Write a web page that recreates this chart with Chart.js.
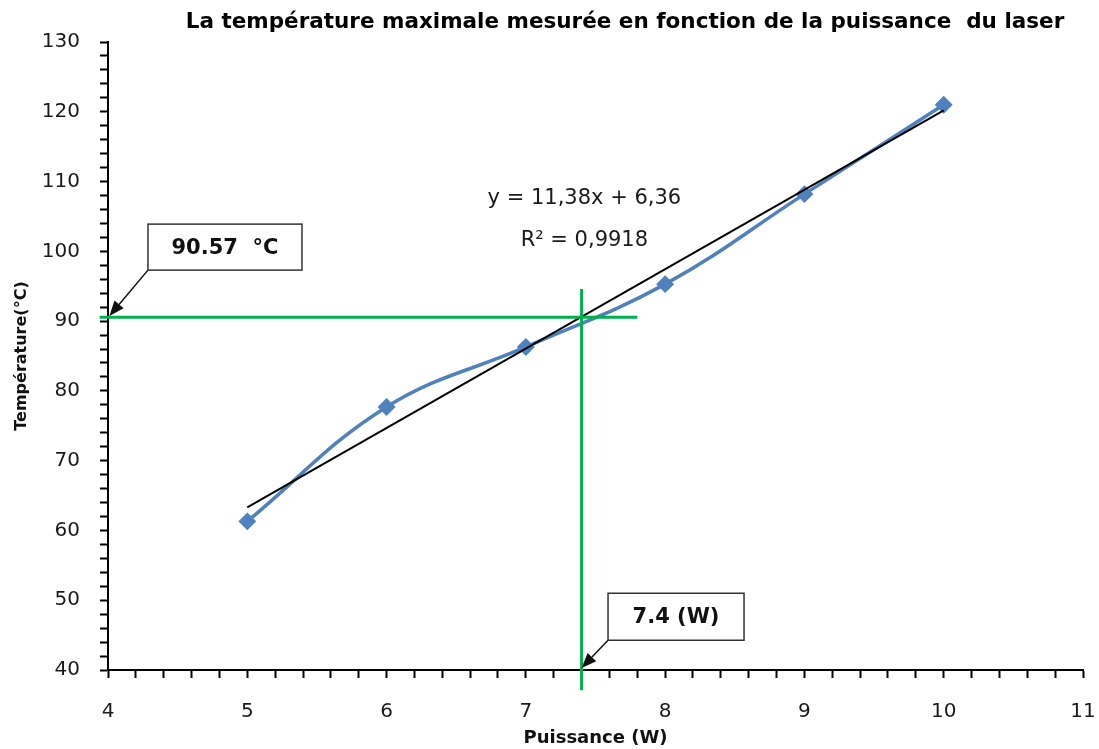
<!DOCTYPE html>
<html>
<head>
<meta charset="utf-8">
<script src="https://cdn.jsdelivr.net/npm/chart.js@4/dist/chart.umd.min.js"></script>
<style>
  html, body { margin: 0; padding: 0; background: #fff; }
  #wrap { width: 1099px; height: 749px; }
</style>
</head>
<body>
<div id="wrap"><canvas id="chart"></canvas></div>
<script>
// measured points
const puissance = [5, 6, 7, 8, 9, 10];
const temperature = [61.3, 77.7, 86.3, 95.3, 108.2, 121.0];

// linear trendline (as drawn)
const trendX = [5, 10];
const trendY = [63.3, 120.2];

// reading of the graph
const mesureP = 7.4;
const mesureT = 90.57;
const lectureHx = [3.94, 7.8];
const lectureVy = [37.1, 94.6];

const titre = 'La température maximale mesurée en fonction de la puissance  du laser';
const equation = 'y = 11,38x + 6,36';
const r2Text = 'R² = 0,9918';

const toPts = (xs, ys) => xs.map((v, i) => ({ x: v, y: ys[i] }));

// callout boxes: top-left in data units, size in px, arrow target in data units
const callouts = [
  { text: mesureT + '  °C', x: 4.287, y: 103.9, w: 154, h: 46, tx: 4.01, ty: 90.75 },
  { text: mesureP + ' (W)', x: 7.59, y: 51.0, w: 136, h: 47, tx: 7.4, ty: 40.3 }
];

const annotations = {
  id: 'annotations',
  afterDraw(chart) {
    const { ctx } = chart;
    ctx.save();
    ctx.fillStyle = '#000';
    ctx.textAlign = 'center';
    ctx.textBaseline = 'middle';
    ctx.font = 'bold 21.5px "DejaVu Sans"';
    ctx.fillText(titre, 625, 22);
    ctx.restore();
  },
  afterDatasetsDraw(chart) {
    const { ctx, scales: { x, y } } = chart;
    ctx.save();
    ctx.fillStyle = '#1a1a1a';
    ctx.textAlign = 'center';
    ctx.textBaseline = 'middle';
    ctx.font = '21px "DejaVu Sans"';
    ctx.fillText(equation, x.getPixelForValue(7.42), y.getPixelForValue(107.6));
    ctx.fillText(r2Text, x.getPixelForValue(7.42), y.getPixelForValue(101.5));

    callouts.forEach(c => {
      const bx = x.getPixelForValue(c.x);
      const by = y.getPixelForValue(c.y);
      ctx.fillStyle = '#fff';
      ctx.fillRect(bx, by, c.w, c.h);
      ctx.strokeStyle = '#333';
      ctx.lineWidth = 1.5;
      ctx.strokeRect(bx, by, c.w, c.h);
      ctx.fillStyle = '#111';
      ctx.font = 'bold 21px "DejaVu Sans"';
      ctx.fillText(c.text, bx + c.w / 2, by + c.h / 2 + 1);

      // arrow from bottom-left corner of the box
      const sx = bx, sy = by + c.h;
      const ex = x.getPixelForValue(c.tx), ey = y.getPixelForValue(c.ty);
      const ang = Math.atan2(ey - sy, ex - sx);
      const len = 15, half = 6;
      const baseX = ex - len * Math.cos(ang), baseY = ey - len * Math.sin(ang);
      ctx.strokeStyle = '#111';
      ctx.lineWidth = 1.5;
      ctx.beginPath();
      ctx.moveTo(sx, sy);
      ctx.lineTo(baseX, baseY);
      ctx.stroke();
      ctx.fillStyle = '#111';
      ctx.beginPath();
      ctx.moveTo(ex, ey);
      ctx.lineTo(baseX + half * Math.sin(ang), baseY - half * Math.cos(ang));
      ctx.lineTo(baseX - half * Math.sin(ang), baseY + half * Math.cos(ang));
      ctx.closePath();
      ctx.fill();
    });
    ctx.restore();
  }
};

const isMajor = v => Math.abs(v - Math.round(v)) < 1e-6;

const ctx = document.getElementById('chart').getContext('2d');
new Chart(ctx, {
  type: 'scatter',
  data: {
    datasets: [
      {
        data: [{ x: lectureHx[0], y: mesureT }, { x: lectureHx[1], y: mesureT }],
        showLine: true, borderColor: '#00B050', borderWidth: 3, pointRadius: 0, clip: false
      },
      {
        data: [{ x: mesureP, y: lectureVy[0] }, { x: mesureP, y: lectureVy[1] }],
        showLine: true, borderColor: '#00B050', borderWidth: 3, pointRadius: 0, clip: false
      },
      {
        data: toPts(trendX, trendY),
        showLine: true, borderColor: '#000', borderWidth: 2, pointRadius: 0
      },
      {
        data: toPts(puissance, temperature),
        showLine: true, borderColor: '#4F81BD', borderWidth: 3.5, tension: 0.4,
        pointStyle: 'rectRot', pointRadius: 6.5, pointBackgroundColor: '#4F81BD',
        pointBorderColor: '#4F81BD'
      }
    ]
  },
  options: {
    responsive: true,
    maintainAspectRatio: false,
    animation: false,
    layout: { padding: { left: 0, right: 16, top: 42, bottom: 0 } },
    plugins: {
      legend: { display: false },
      tooltip: { enabled: false },
      title: { display: false }
    },
    scales: {
      x: {
        type: 'linear', min: 4, max: 11,
        afterFit: s => { s.height = 79; s.paddingLeft = 0; s.paddingRight = 0; },
        border: { color: '#000', width: 2 },
        grid: { drawOnChartArea: false, tickLength: 8, tickColor: '#000', tickWidth: 2 },
        ticks: {
          stepSize: 0.2, autoSkip: false, maxRotation: 0, padding: 22,
          color: '#1a1a1a', font: { family: 'DejaVu Sans', size: 20 },
          callback: v => isMajor(v) ? Math.round(v) : ''
        },
        title: {
          display: true, text: 'Puissance (W)', color: '#111',
          font: { family: 'DejaVu Sans', size: 18, weight: 'bold' },
          padding: { top: 0, bottom: 0 }
        }
      },
      y: {
        type: 'linear', min: 40, max: 130,
        afterFit: s => { s.width = 108; s.paddingTop = 0; s.paddingBottom = 0; },
        border: { color: '#000', width: 2 },
        grid: { drawOnChartArea: false, tickLength: 8, tickColor: '#000', tickWidth: 2 },
        ticks: {
          stepSize: 2, autoSkip: false, padding: 20,
          color: '#1a1a1a', font: { family: 'DejaVu Sans', size: 20 },
          callback: v => v % 10 === 0 ? v : ''
        },
        title: {
          display: true, text: 'Température(°C)', color: '#111',
          font: { family: 'DejaVu Sans', size: 16, weight: 'bold' },
          padding: { top: 12, bottom: 0 }
        }
      }
    }
  },
  plugins: [annotations]
});
</script>
</body>
</html>
